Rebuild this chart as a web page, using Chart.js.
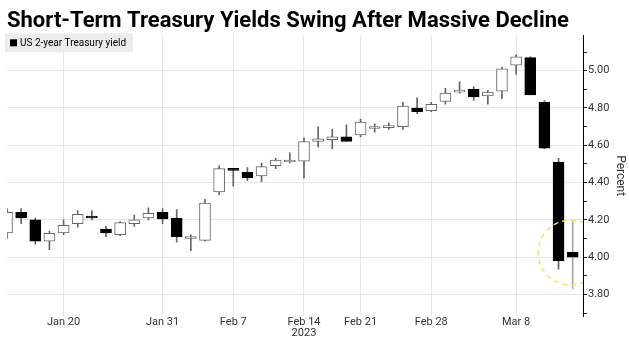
<!DOCTYPE html>
<html>
<head>
<meta charset="utf-8">
<script src="https://cdn.jsdelivr.net/npm/chart.js@4.4.1/dist/chart.umd.min.js"></script>
<style>
  html, body { margin: 0; padding: 0; background: #fff; }
</style>
</head>
<body>
<canvas id="myChart" width="629" height="340"></canvas>
<script>
// trading days shown, one candle each
const dates = ['Jan 13','Jan 17','Jan 18','Jan 19','Jan 20','Jan 23','Jan 24','Jan 25','Jan 26','Jan 27',
  'Jan 30','Jan 31','Feb 1','Feb 2','Feb 3','Feb 6','Feb 7','Feb 8','Feb 9','Feb 10',
  'Feb 13','Feb 14','Feb 15','Feb 16','Feb 17','Feb 21','Feb 22','Feb 23','Feb 24','Feb 27',
  'Feb 28','Mar 1','Mar 2','Mar 3','Mar 6','Mar 7','Mar 8','Mar 9','Mar 10','Mar 13','Mar 14']

const opens = [4.13,4.24,4.20,4.085,4.13,4.18,4.22,4.15,4.12,4.18,
  4.21,4.24,4.21,4.10,4.09,4.35,4.475,4.455,4.435,4.49,
  4.51,4.515,4.62,4.63,4.645,4.655,4.69,4.695,4.70,4.80,
  4.785,4.835,4.885,4.90,4.865,4.89,5.03,5.07,4.83,4.51,4.025]
const highs = [4.26,4.26,4.21,4.14,4.20,4.25,4.25,4.165,4.19,4.225,
  4.265,4.26,4.255,4.12,4.31,4.49,4.475,4.48,4.505,4.53,
  4.56,4.64,4.70,4.685,4.71,4.74,4.715,4.72,4.83,4.855,
  4.83,4.905,4.94,4.915,4.895,5.02,5.085,5.075,4.84,4.53,4.19]
const lows = [4.10,4.18,4.07,4.04,4.12,4.16,4.20,4.11,4.115,4.165,
  4.20,4.18,4.08,4.035,4.085,4.335,4.38,4.41,4.405,4.475,
  4.505,4.425,4.59,4.58,4.62,4.645,4.67,4.685,4.685,4.77,
  4.78,4.82,4.88,4.84,4.82,4.85,4.98,4.87,4.58,3.935,3.83]
const closes = [4.24,4.21,4.085,4.127,4.17,4.23,4.21,4.13,4.185,4.20,
  4.235,4.205,4.11,4.105,4.29,4.475,4.465,4.425,4.485,4.52,
  4.52,4.62,4.635,4.645,4.62,4.725,4.695,4.70,4.81,4.78,
  4.82,4.88,4.887,4.86,4.885,5.01,5.075,4.87,4.585,3.98,4.00]

const seriesName = 'US 2-year Treasury yield'
const tickDates = ['Jan 20','Jan 31','Feb 7','Feb 14','Feb 21','Feb 28','Mar 8']
const tickLabels = [['Jan 20'],['Jan 31'],['Feb 7'],['Feb 14','2023'],['Feb 21'],['Feb 28'],['Mar 8']]
const yTicks = [3.7,3.8,3.9,4.0,4.1,4.2,4.3,4.4,4.5,4.6,4.7,4.8,4.9,5.0,5.1]
// dashed highlight round the last two sessions: center (index, percent) and radius in percent
const highlight = { x: 39.85, y: 4.024, r: 0.174 }

const isMajor = v => Math.round(v * 10) % 2 === 0
const up = i => closes[i] >= opens[i]

const legendBox = {
  id: 'legendBox',
  afterDatasetsDraw(chart) {
    const {ctx, chartArea} = chart
    ctx.save()
    ctx.fillStyle = '#ececec'
    ctx.fillRect(chartArea.left - 2, chartArea.top - 2, 128, 19)
    ctx.fillStyle = '#000'
    ctx.fillRect(chartArea.left + 3, chartArea.top + 4, 7, 7)
    ctx.font = '10px Roboto'
    ctx.textBaseline = 'middle'
    ctx.fillText(seriesName, chartArea.left + 13, chartArea.top + 8)
    ctx.restore()
  }
}

const circle = {
  id: 'circle',
  afterDatasetsDraw(chart) {
    const {ctx, chartArea, scales} = chart
    const cx = scales.x.getPixelForValue(highlight.x)
    const cy = scales.y.getPixelForValue(highlight.y)
    const r = Math.abs(scales.y.getPixelForValue(highlight.y + highlight.r) - cy)
    ctx.save()
    ctx.beginPath()
    ctx.rect(chartArea.left, chartArea.top, chartArea.width, chartArea.height)
    ctx.clip()
    ctx.setLineDash([5, 4])
    ctx.strokeStyle = '#f0e36a'
    ctx.lineWidth = 1.5
    ctx.beginPath()
    ctx.arc(cx, cy, r, 0, Math.PI * 2)
    ctx.stroke()
    ctx.restore()
  }
}

const aChart = document.getElementById('myChart').getContext('2d')

const myChart = new Chart(aChart, {
  type: 'bar',
  data: {
    datasets: [{
      label: seriesName,
      data: dates.map((d, i) => ({x: i, y: [opens[i], closes[i]]})),
      backgroundColor: ctx => up(ctx.dataIndex) ? '#fff' : '#000',
      borderColor: ctx => up(ctx.dataIndex) ? '#666' : '#000',
      borderWidth: 1,
      borderSkipped: false,
      barThickness: 11,
      minBarLength: 2,
      grouped: false,
      clip: 0
    }, {
      label: 'range',
      data: dates.map((d, i) => ({x: i, y: [lows[i], highs[i]]})),
      backgroundColor: ctx => ctx.dataIndex === dates.length - 1 ? '#aaa' : '#666',
      barThickness: 1,
      grouped: false,
      clip: 0
    }]
  },
  options: {
    responsive: false,
    animation: false,
    devicePixelRatio: 1,
    layout: { padding: { left: 7, right: 0, top: 0, bottom: 0 } },
    plugins: {
      legend: { display: false },
      tooltip: { enabled: false },
      title: {
        display: true,
        text: 'Short-Term Treasury Yields Swing After Massive Decline',
        align: 'start',
        color: '#000',
        font: { family: 'Roboto', size: 22, weight: 'bold', lineHeight: 1.15 },
        padding: { top: 9, bottom: 1 }
      }
    },
    scales: {
      x: {
        type: 'linear',
        offset: false,
        min: 0,
        max: 40.73,
        afterBuildTicks: s => { s.ticks = tickDates.map(d => ({value: dates.indexOf(d)})) },
        afterFit: s => { s.height = 24 },
        ticks: {
          autoSkip: false,
          maxRotation: 0,
          padding: 1,
          color: '#333',
          font: { family: 'Roboto', size: 11, lineHeight: 1 },
          callback: (v, i) => tickLabels[i]
        },
        grid: { color: '#e6e6e6', drawTicks: false, offset: false },
        border: { display: false }
      },
      y: {
        position: 'right',
        min: 3.684,
        max: 5.19,
        afterBuildTicks: s => { s.ticks = yTicks.map(v => ({value: v})) },
        afterFit: s => { s.width = 46 },
        ticks: {
          padding: 1,
          color: '#333',
          font: { family: 'Roboto', size: 11 },
          callback: v => isMajor(v) ? v.toFixed(2) : ''
        },
        grid: {
          color: ctx => ctx.tick && isMajor(ctx.tick.value) ? '#e6e6e6' : 'rgba(0,0,0,0)',
          tickColor: '#222',
          tickLength: 4
        },
        border: { color: '#000', width: 1 },
        title: {
          display: true,
          text: 'Percent',
          color: '#333',
          font: { family: 'Roboto', size: 12 },
          padding: 2
        }
      }
    }
  },
  plugins: [legendBox, circle]
})
</script>
</body>
</html>
